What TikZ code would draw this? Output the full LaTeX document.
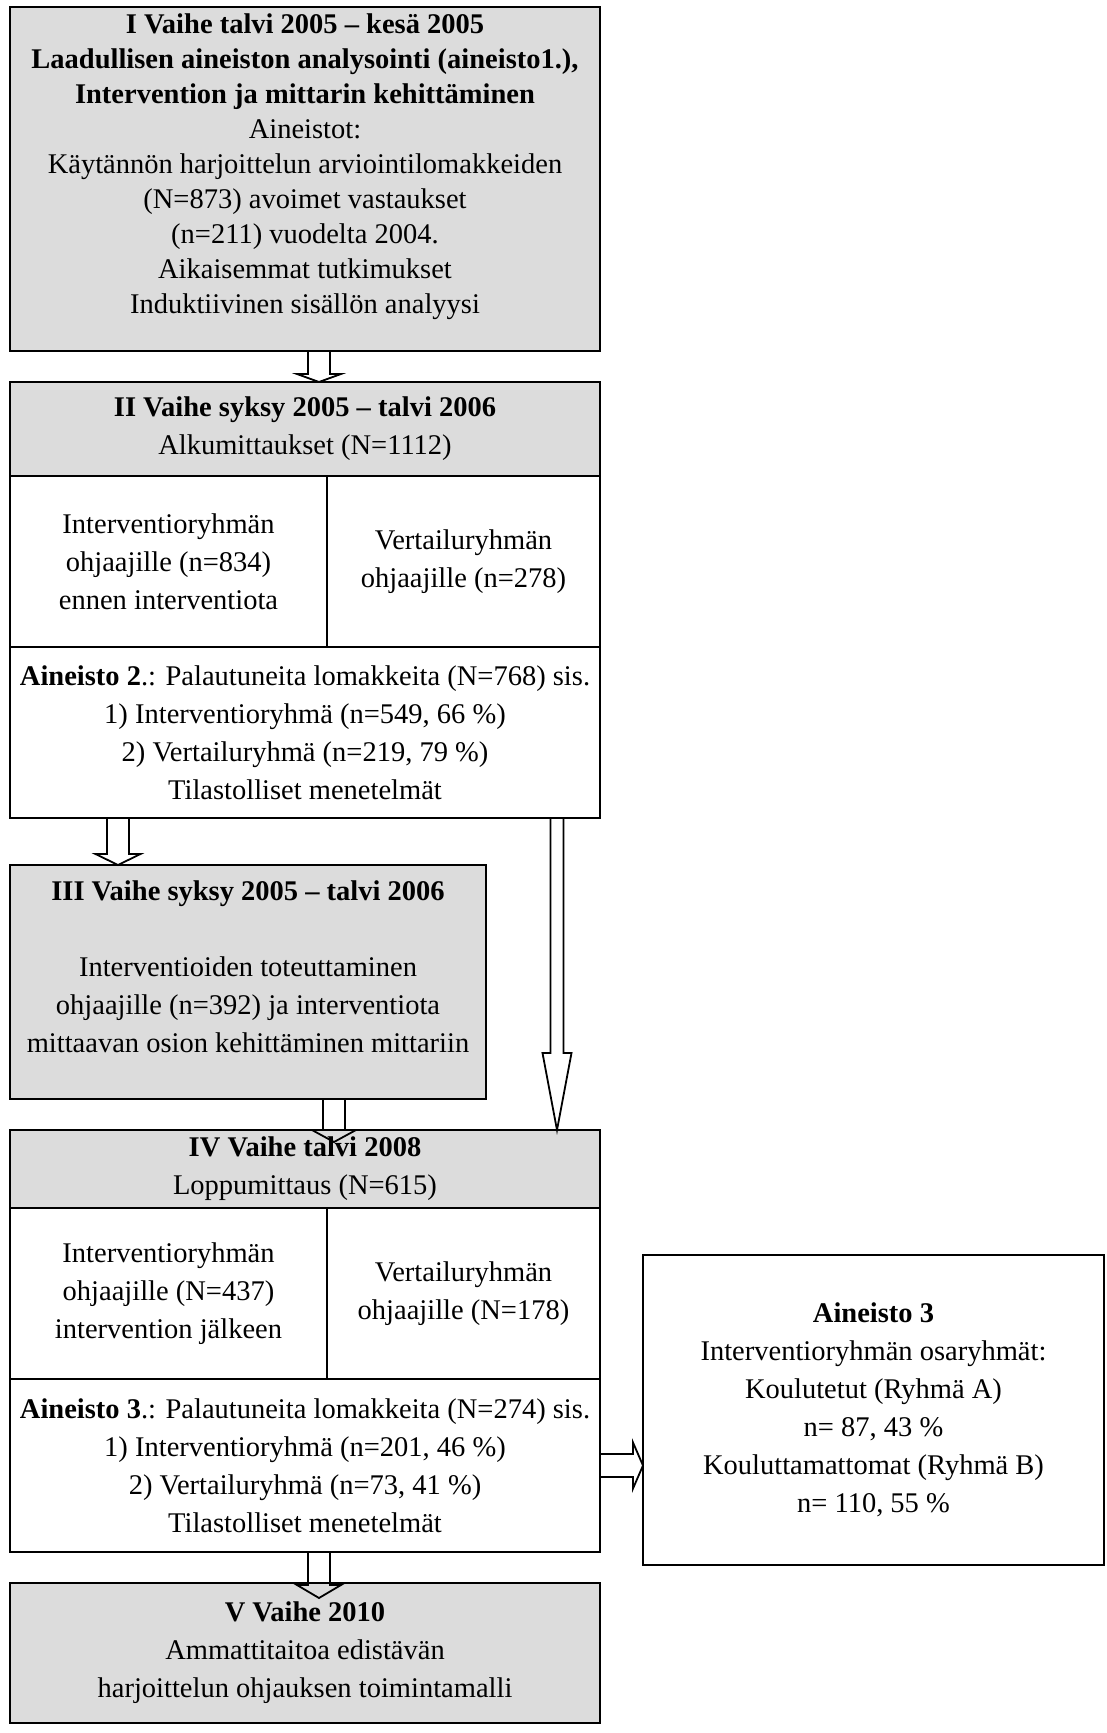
\documentclass[tikz,border=0pt]{standalone}
\usepackage{fontspec}
\setmainfont{Liberation Serif}
\usetikzlibrary{positioning, calc}
\definecolor{panelGray}{RGB}{220, 220, 220}
\tikzset{
    panel/.style={
        draw,
        line width=0.9pt,
        fill=panelGray,
        inner sep=0pt,
        outer sep=0pt,
        align=center,
        anchor=north west,
        minimum width=295pt
    },
    cell/.style={
        panel,
        fill=white
    },
    teksti/.style={
        align=center,
        inner sep=0pt
    },
    nuoli/.style={
        draw,
        line width=0.9pt,
        line join=miter
    }
}
% block arrow down: from, tip, shaft half width, head half width, head length
\newcommand{\nuolialas}[5]{%
    \draw[nuoli] ($(#1)+(-#3,0)$) -- ($(#2)+(-#3,-#5)$) -- ($(#2)+(-#4,-#5)$) -- (#2)
        -- ($(#2)+(#4,-#5)$) -- ($(#2)+(#3,-#5)$) -- ($(#1)+(#3,0)$);}
% block arrow right: from, tip, shaft half height, head half height, head length
\newcommand{\nuolioikealle}[5]{%
    \draw[nuoli] ($(#1)+(0,-#3)$) -- ($(#2)+(-#5,-#3)$) -- ($(#2)+(-#5,-#4)$) -- (#2)
        -- ($(#2)+(-#5,#4)$) -- ($(#2)+(-#5,#3)$) -- ($(#1)+(0,#3)$);}

\begin{document}
\begin{tikzpicture}[x=0.5pt, y=-0.5pt, font=\fontsize{14.25}{19}\selectfont]
    \useasboundingbox (0,0) rectangle (1107,1733);

    % I vaihe
    \node[panel, minimum height=172pt] (vaihe1) at (10,7) {};
    \node[teksti, font=\fontsize{14.25}{17.5}\selectfont] (vaihe1teksti) at ([yshift=6pt]vaihe1.center)
        {\textbf{I Vaihe talvi 2005 – kesä 2005}\\
         \textbf{Laadullisen aineiston analysointi (aineisto1.),}\\
         \textbf{Intervention ja mittarin kehittäminen}\\
         Aineistot:\\
         Käytännön harjoittelun arviointilomakkeiden\\
         (N=873) avoimet vastaukset\\
         (n=211) vuodelta 2004.\\
         Aikaisemmat tutkimukset\\
         Induktiivinen sisällön analyysi};

    % II vaihe
    \node[panel, minimum height=47pt, below=15.5pt of vaihe1.south west, anchor=north west] (vaihe2)
        {\textbf{II Vaihe syksy 2005 – talvi 2006}\\ Alkumittaukset (N=1112)};
    \node[cell, minimum width=158.5pt, minimum height=85.5pt] (vaihe2vasen) at (vaihe2.south west)
        {Interventioryhmän\\ ohjaajille (n=834)\\ ennen interventiota};
    \node[cell, minimum width=136.5pt, minimum height=85.5pt] (vaihe2oikea) at (vaihe2vasen.north east)
        {Vertailuryhmän\\ ohjaajille (n=278)};
    \node[cell, minimum height=85.5pt] (aineisto2) at (vaihe2vasen.south west)
        {\textbf{Aineisto 2}.: Palautuneita lomakkeita (N=768) sis.\\
         1) Interventioryhmä (n=549, 66 \%)\\
         2) Vertailuryhmä (n=219, 79 \%)\\
         Tilastolliset menetelmät};

    % III vaihe
    \node[panel, minimum width=238pt, minimum height=117pt, below=23.5pt of aineisto2.south west, anchor=north west] (vaihe3) {};
    \node[teksti] (vaihe3teksti) at ([yshift=7.5pt]vaihe3.center)
        {\textbf{III Vaihe syksy 2005 – talvi 2006}\\[19pt]
         Interventioiden toteuttaminen\\
         ohjaajille (n=392) ja interventiota\\
         mittaavan osion kehittäminen mittariin};

    % IV vaihe
    \node[panel, minimum height=39pt, below=15.5pt of vaihe3.south west, anchor=north west] (vaihe4)
        {\textbf{IV Vaihe talvi 2008}\\ Loppumittaus (N=615)};
    \node[cell, minimum width=158.5pt, minimum height=85.5pt] (vaihe4vasen) at (vaihe4.south west)
        {Interventioryhmän\\ ohjaajille (N=437)\\ intervention jälkeen};
    \node[cell, minimum width=136.5pt, minimum height=85.5pt] (vaihe4oikea) at (vaihe4vasen.north east)
        {Vertailuryhmän\\ ohjaajille (N=178)};
    \node[cell, minimum height=86.5pt] (aineisto3) at (vaihe4vasen.south west)
        {\textbf{Aineisto 3}.: Palautuneita lomakkeita (N=274) sis.\\
         1) Interventioryhmä (n=201, 46 \%)\\
         2) Vertailuryhmä (n=73, 41 \%)\\
         Tilastolliset menetelmät};

    % V vaihe
    \node[panel, minimum height=70pt, below=15.5pt of aineisto3.south west, anchor=north west] (vaihe5)
        {\textbf{V Vaihe 2010}\\ Ammattitaitoa edistävän\\ harjoittelun ohjauksen toimintamalli};

    % osaryhmat
    \node[cell, minimum width=230.5pt, minimum height=155pt] (osaryhmat) at (643,1255)
        {\textbf{Aineisto 3}\\
         Interventioryhmän osaryhmät:\\
         Koulutetut (Ryhmä A)\\
         n= 87, 43 \%\\
         Kouluttamattomat (Ryhmä B)\\
         n= 110, 55 \%};

    % nuolet
    \coordinate (x12) at (319,0);
    \coordinate (x23) at (118,0);
    \coordinate (x24) at (557,0);
    \coordinate (x34) at (334,0);
    \coordinate (k34) at ($(vaihe4.north -| x34)+(0,12)$);
    \coordinate (k45) at ($(vaihe5.north -| x12)+(0,15)$);
    \nuolialas{vaihe1.south -| x12}{vaihe2.north -| x12}{11}{22}{8}
    \nuolialas{aineisto2.south -| x23}{vaihe3.north -| x23}{11}{22.5}{11}
    \nuolialas{aineisto2.south -| x24}{vaihe4.north -| x24}{6.5}{14.5}{77}
    \nuolialas{vaihe3.south -| x34}{k34}{11}{22}{12}
    \nuolialas{aineisto3.south -| x12}{k45}{11}{22}{13}
    \nuolioikealle{aineisto3.east}{osaryhmat.west |- aineisto3.east}{11.5}{23}{10}
\end{tikzpicture}
\end{document}
